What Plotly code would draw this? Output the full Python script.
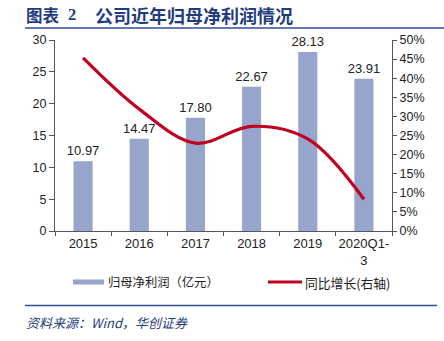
import plotly.graph_objects as go

categories = ["2015", "2016", "2017", "2018", "2019", "2020Q1-<br>3"]
profit = [10.97, 14.47, 17.80, 22.67, 28.13, 23.91]
profit_labels = ["10.97", "14.47", "17.80", "22.67", "28.13", "23.91"]
growth = [0.453, 0.319, 0.230, 0.274, 0.241, 0.083]

W, H = 444, 341
L, R, T, B = 55, 52, 40, 110
PW, PH = W - L - R, H - T - B

def px(x):
    return (x - L) / PW

def py(y):
    return (H - B - y) / PH

BAR = "#97A4CB"
LINE = "#C00020"
NAVY = "#1F3C7E"
AX = "#555555"
TXT = "#222222"
FONT = "Liberation Sans, Arial, sans-serif"
CJK = "Noto Sans CJK SC, sans-serif"

fig = go.Figure()
fig.add_trace(go.Bar(
    x=categories, y=profit, width=0.34, marker=dict(color=BAR, line=dict(width=0)),
    text=profit_labels, textposition="outside", cliponaxis=False, constraintext="none",
    textfont=dict(family=FONT, size=13, color=TXT), showlegend=False, yaxis="y"))
fig.add_trace(go.Scatter(
    x=categories, y=growth, mode="lines", line=dict(color=LINE, width=3.2, shape="spline", smoothing=1.0),
    showlegend=False, yaxis="y2"))

shapes = [
    dict(type="line", xref="paper", yref="paper", x0=px(25), x1=px(444), y0=py(28), y1=py(28),
         line=dict(color="#2A4F97", width=1.5)),
    dict(type="line", xref="paper", yref="paper", x0=px(25), x1=px(437), y0=py(305.5), y1=py(305.5),
         line=dict(color="#2A4F97", width=1.5)),
    dict(type="rect", xref="paper", yref="paper", x0=px(73), x1=px(104), y0=py(284.5), y1=py(279.5),
         fillcolor=BAR, line=dict(width=0)),
    dict(type="line", xref="paper", yref="paper", x0=px(268), x1=px(302), y0=py(282), y1=py(282),
         line=dict(color=LINE, width=3)),
]

annotations = [
    dict(text="<b>图表</b>", x=px(24), y=py(15), xref="paper", yref="paper", xanchor="left", yanchor="middle",
         showarrow=False, font=dict(family=CJK, size=16.5, color=NAVY)),
    dict(text="<b>2</b>", x=px(66), y=py(15), xref="paper", yref="paper", xanchor="left", yanchor="middle",
         showarrow=False, font=dict(family="Liberation Serif, serif", size=16.5, color=NAVY)),
    dict(text="<b>公司近年归母净利润情况</b>", x=px(93), y=py(15), xref="paper", yref="paper", xanchor="left",
         yanchor="middle", showarrow=False, font=dict(family=CJK, size=18, color=NAVY)),
    dict(text="归母净利润（亿元）", x=px(106), y=py(282), xref="paper", yref="paper", xanchor="left",
         yanchor="middle", showarrow=False, font=dict(family=CJK, size=12.3, color=TXT)),
    dict(text="同比增长(右轴)", x=px(303), y=py(282), xref="paper", yref="paper", xanchor="left",
         yanchor="middle", showarrow=False, font=dict(family=CJK, size=12.8, color=TXT)),
    dict(text="资料来源：Wind，华创证券", x=px(24), y=py(322), xref="paper", yref="paper", xanchor="left",
         yanchor="middle", showarrow=False, font=dict(family=CJK, size=13, color=NAVY, style="italic")),
]

fig.update_layout(
    width=W, height=H, autosize=False,
    margin=dict(l=L, r=R, t=T, b=B, pad=0),
    paper_bgcolor="white", plot_bgcolor="white",
    bargap=0.5,
    shapes=shapes, annotations=annotations,
    xaxis=dict(type="category", showline=True, linecolor=AX, linewidth=1.2, ticks="outside",
               tickson="boundaries", ticklen=4, tickcolor=AX, showgrid=False, tickangle=0,
               tickfont=dict(family=FONT, size=13, color=TXT)),
    yaxis=dict(range=[0, 30], dtick=5, showline=True, linecolor=AX, linewidth=1.2, ticks="outside",
               ticklen=5, tickcolor=AX, showgrid=False, zeroline=False,
               tickfont=dict(family=FONT, size=12.5, color=TXT)),
    yaxis2=dict(range=[0, 0.5], dtick=0.05, tickformat=".0%", overlaying="y", side="right",
                showline=True, linecolor=AX, linewidth=1.2, ticks="outside", ticklen=4, tickcolor=AX,
                showgrid=False, zeroline=False, tickfont=dict(family=FONT, size=12.5, color=TXT)),
)

fig.write_html("out.html")
